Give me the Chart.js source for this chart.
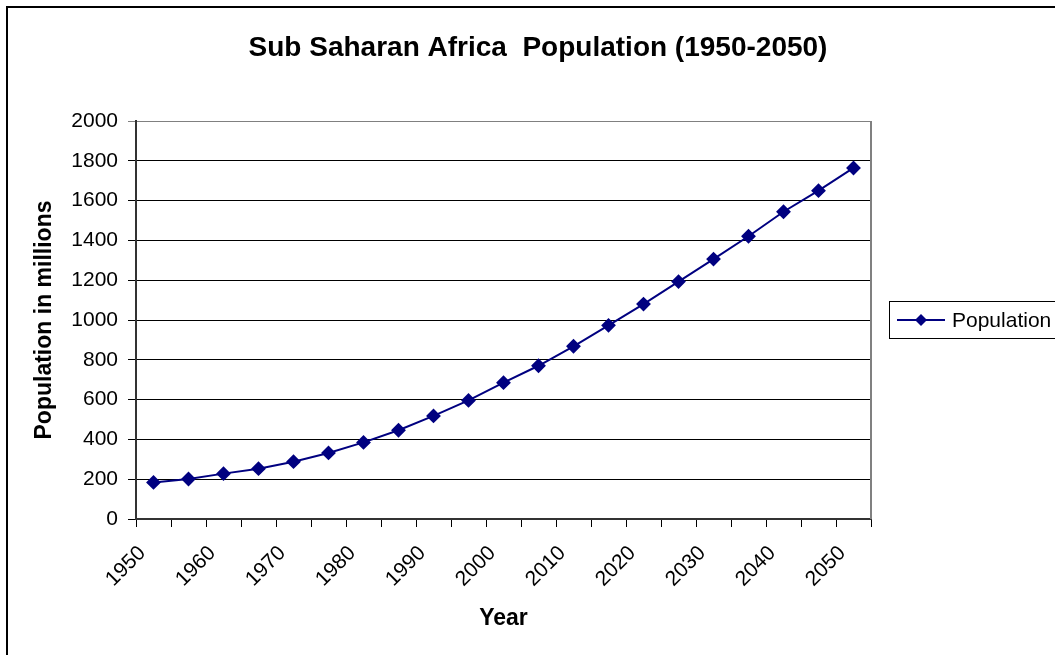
<!DOCTYPE html>
<html>
<head>
<meta charset="utf-8">
<script src="https://cdn.jsdelivr.net/npm/chart.js@4.4.1/dist/chart.umd.min.js"></script>
<style>
  html, body { margin: 0; padding: 0; background: #fff; }
  #chart { display: block; }
</style>
</head>
<body>
<canvas id="chart" width="1055" height="655"></canvas>
<script>
// ---- data ----
const years = ["1950", "1955", "1960", "1965", "1970", "1975", "1980", "1985", "1990", "1995",
               "2000", "2005", "2010", "2015", "2020", "2025", "2030", "2035", "2040", "2045", "2050"];
const population = [184, 201, 228, 253, 288, 332, 385, 446, 518, 596,
                    685, 770, 868, 973, 1080, 1193, 1306, 1421, 1544, 1650, 1764];
const yMin = 0, yMax = 2000, yStep = 200;

const chartTitle = "Sub Saharan Africa  Population (1950-2050)";
const yTitle = "Population in millions";
const xTitle = "Year";
const seriesName = "Population";

const FONT = "'Liberation Sans', Arial, sans-serif";
const NAVY = "#000080";

// рамка, заголовок, легенда и серая правая граница области построения
const excelDecor = {
  id: "excelDecor",
  beforeDatasetsDraw(chart) {
    const { ctx, chartArea: a } = chart;
    ctx.save();
    ctx.strokeStyle = "#808080";
    ctx.lineWidth = 2;
    ctx.beginPath();
    ctx.moveTo(a.right, a.top);
    ctx.lineTo(a.right, a.bottom);
    ctx.stroke();
    ctx.restore();
  },
  afterDraw(chart) {
    const { ctx } = chart;
    ctx.save();
    // outer frame (right and bottom are outside the picture)
    ctx.strokeStyle = "#000";
    ctx.lineWidth = 2;
    ctx.strokeRect(7, 7, 1060, 660);

    // title
    ctx.fillStyle = "#000";
    ctx.font = `bold 28px ${FONT}`;
    ctx.textAlign = "center";
    ctx.textBaseline = "middle";
    ctx.fillText(chartTitle, 538, 48);

    // legend
    const lx = 889, ly = 301, lh = 37;
    ctx.lineWidth = 1;
    ctx.strokeRect(lx + 0.5, ly + 0.5, 200, lh);
    const my = ly + lh / 2 + 0.5;
    ctx.strokeStyle = NAVY;
    ctx.lineWidth = 2;
    ctx.beginPath();
    ctx.moveTo(897, my);
    ctx.lineTo(945, my);
    ctx.stroke();
    ctx.fillStyle = NAVY;
    ctx.beginPath();
    ctx.moveTo(921, my - 6);
    ctx.lineTo(927, my);
    ctx.lineTo(921, my + 6);
    ctx.lineTo(915, my);
    ctx.closePath();
    ctx.fill();
    ctx.fillStyle = "#000";
    ctx.font = `21px ${FONT}`;
    ctx.textAlign = "left";
    ctx.fillText(seriesName, 952, my + 1);
    ctx.restore();
  }
};

new Chart(document.getElementById("chart").getContext("2d"), {
  type: "line",
  data: {
    labels: years,
    datasets: [{
      label: seriesName,
      data: population,
      borderColor: NAVY,
      backgroundColor: NAVY,
      borderWidth: 2,
      tension: 0,
      pointStyle: "rectRot",
      pointRadius: 6,
      pointHoverRadius: 6,
      pointBackgroundColor: NAVY,
      pointBorderColor: NAVY,
    }],
  },
  options: {
    responsive: false,
    animation: false,
    devicePixelRatio: 1,
    layout: { padding: { left: 0, top: 121, right: 184, bottom: 0 } },
    plugins: {
      legend: { display: false },
      title: { display: false },
      tooltip: { enabled: false },
    },
    scales: {
      x: {
        type: "category",
        offset: true,
        afterFit: s => { s.height = 136; },
        border: { color: "#333", width: 2 },
        grid: { offset: true, drawOnChartArea: false, drawTicks: true, tickLength: 8, color: "#000" },
        ticks: {
          autoSkip: false,
          maxRotation: 45,
          minRotation: 45,
          padding: 14,
          labelOffset: -11,
          color: "#000",
          font: { family: FONT, size: 21 },
          callback: function (v, i) { return i % 2 === 0 ? this.getLabelForValue(v) : ""; },
        },
        title: {
          display: true,
          text: xTitle,
          color: "#000",
          font: { family: FONT, size: 23, weight: "bold" },
          padding: { top: 0, bottom: 23 },
        },
      },
      y: {
        min: yMin,
        max: yMax,
        afterFit: s => { s.width = 136; },
        border: { color: "#333", width: 2 },
        grid: {
          tickLength: 8,
          color: c => (c.tick && c.tick.value === yMax ? "#808080" : "#000"),
        },
        ticks: {
          stepSize: yStep,
          padding: 10,
          color: "#000",
          font: { family: FONT, size: 21 },
          callback: v => String(v),
        },
        title: {
          display: true,
          text: yTitle,
          color: "#000",
          font: { family: FONT, size: 23, weight: "bold" },
          padding: { top: 31, bottom: 0 },
        },
      },
    },
  },
  plugins: [excelDecor],
});
</script>
</body>
</html>
